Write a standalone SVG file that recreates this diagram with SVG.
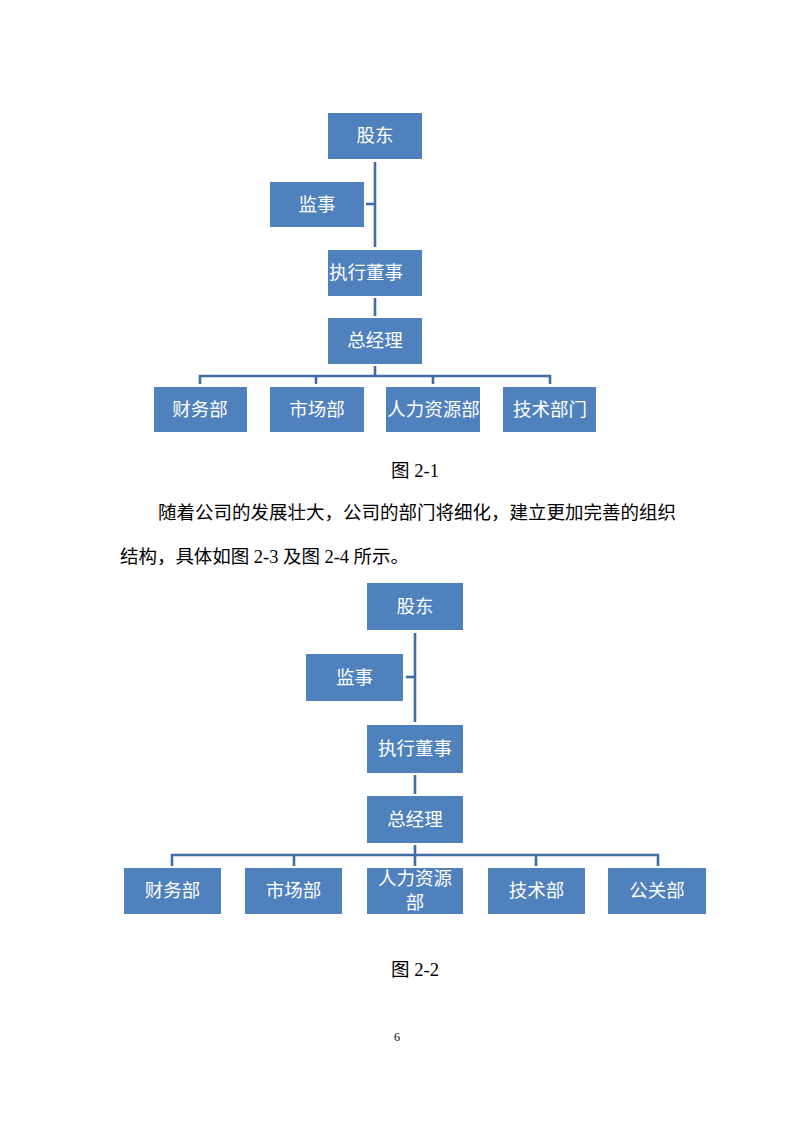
<svg xmlns="http://www.w3.org/2000/svg" width="794" height="1123" viewBox="0 0 794 1123">
<style>
.box{fill:#4f81bd}
.bt{font-family:"Liberation Serif","Noto Sans CJK SC",serif;font-size:18.5px;fill:#ffffff;text-anchor:middle}
.con{fill:none;stroke:#3f6da6;stroke-width:2.6}
.body{font-family:"Liberation Serif","Noto Sans CJK SC",serif;font-size:18.5px;fill:#000}
</style>
<rect width="794" height="1123" fill="#ffffff"/>
<!-- Diagram 1 connectors -->
<g id="connectors1" class="con">
<path d="M375,162 V247"/>
<path d="M366,204 H375"/>
<path d="M375,298 V316"/>
<path d="M375,366 V376"/>
<path d="M200,384 V376 H550 V384"/>
<path d="M316,376 V384"/>
<path d="M433,376 V384"/>
</g>
<g id="d1-gudong"><rect class="box" x="328" y="113" width="94" height="46"/><text class="bt" x="375" y="142">股东</text></g>
<g id="d1-jianshi"><rect class="box" x="270" y="182" width="94" height="45"/><text class="bt" x="317" y="210.5">监事</text></g>
<g id="d1-zhixing"><rect class="box" x="328" y="250" width="94" height="46"/><text class="bt" x="366" y="279">执行董事</text></g>
<g id="d1-zongjingli"><rect class="box" x="328" y="318" width="94" height="46"/><text class="bt" x="375" y="347">总经理</text></g>
<g id="d1-caiwu"><rect class="box" x="154" y="387" width="93" height="45"/><text class="bt" x="200" y="415.5">财务部</text></g>
<g id="d1-shichang"><rect class="box" x="270" y="387" width="94" height="45"/><text class="bt" x="317" y="415.5">市场部</text></g>
<g id="d1-renli"><rect class="box" x="386" y="387" width="94" height="45"/><text class="bt" x="433.5" y="415.5">人力资源部</text></g>
<g id="d1-jishu"><rect class="box" x="503" y="387" width="93" height="45"/><text class="bt" x="550" y="415.5">技术部门</text></g>

<text class="body" x="415" y="477" text-anchor="middle">图 2-1</text>
<text class="body" x="158" y="519" textLength="518" lengthAdjust="spacing">随着公司的发展壮大，公司的部门将细化，建立更加完善的组织</text>
<text class="body" x="120" y="563" textLength="289" lengthAdjust="spacing">结构，具体如图 2-3 及图 2-4 所示。</text>

<!-- Diagram 2 connectors -->
<g id="connectors2" class="con">
<path d="M415,633 V722"/>
<path d="M406,677 H415"/>
<path d="M415,775 V794"/>
<path d="M415,845 V866"/>
<path d="M172,866 V855 H658 V866"/>
<path d="M294,855 V866"/>
<path d="M536,855 V866"/>
</g>
<g id="d2-gudong"><rect class="box" x="367" y="583" width="96" height="47"/><text class="bt" x="415" y="612.5">股东</text></g>
<g id="d2-jianshi"><rect class="box" x="306" y="654" width="97" height="47"/><text class="bt" x="354.5" y="683.5">监事</text></g>
<g id="d2-zhixing"><rect class="box" x="367" y="725" width="96" height="48"/><text class="bt" x="415" y="755">执行董事</text></g>
<g id="d2-zongjingli"><rect class="box" x="367" y="796" width="96" height="47"/><text class="bt" x="415" y="825.5">总经理</text></g>
<g id="d2-caiwu"><rect class="box" x="124" y="868" width="97" height="46"/><text class="bt" x="172.5" y="897">财务部</text></g>
<g id="d2-shichang"><rect class="box" x="245" y="868" width="97" height="46"/><text class="bt" x="293.5" y="897">市场部</text></g>
<g id="d2-renli"><rect class="box" x="367" y="868" width="96" height="46"/><text class="bt" x="415" y="885">人力资源</text><text class="bt" x="415" y="909">部</text></g>
<g id="d2-jishu"><rect class="box" x="488" y="868" width="97" height="46"/><text class="bt" x="536.5" y="897">技术部</text></g>
<g id="d2-gongguan"><rect class="box" x="608" y="868" width="98" height="46"/><text class="bt" x="657" y="897">公关部</text></g>

<text class="body" x="415" y="976" text-anchor="middle">图 2-2</text>
<text x="397" y="1041" text-anchor="middle" style="font-family:'Liberation Serif',serif;font-size:12px;fill:#000">6</text>
</svg>
